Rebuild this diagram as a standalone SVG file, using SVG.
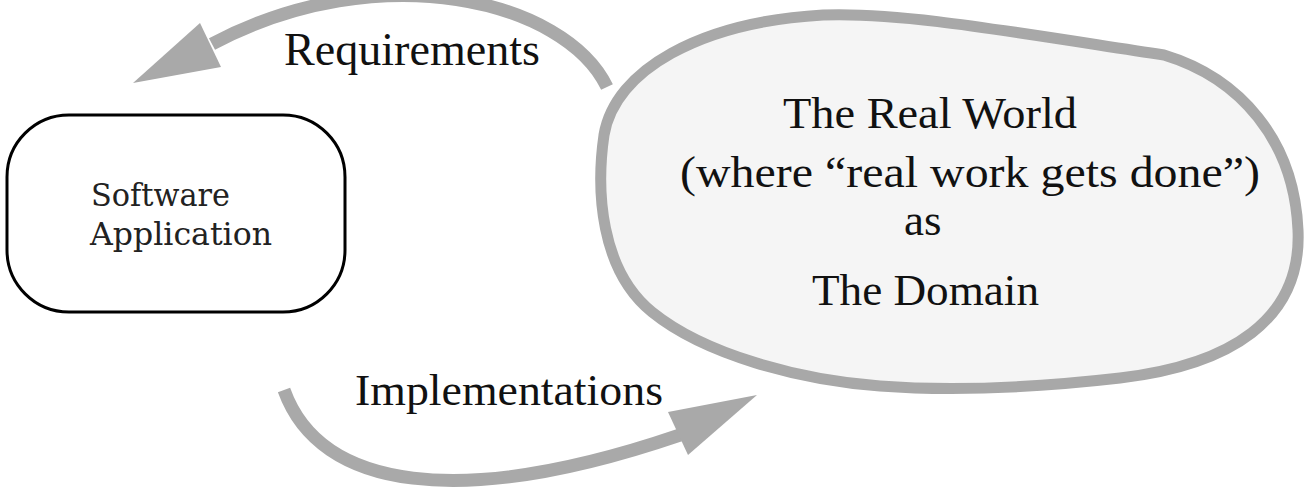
<svg xmlns="http://www.w3.org/2000/svg" width="1315" height="498" viewBox="0 0 1315 498">
  <style>
    .serif { font-family: "Liberation Serif", "Times New Roman", serif; fill: #111; }
    .big { font-size: 45px; }
    .arrow { fill: none; stroke: #a9a9a9; stroke-width: 13; stroke-linecap: butt; }
    .head { fill: #a9a9a9; stroke: none; }
  </style>
  <rect width="1315" height="498" fill="#ffffff"/>
  <g id="real-world">
    <path d="M 1164,55 C 1240,78 1294,140 1298,230 C 1302,320 1230,365 1120,378 C 1050,386 960,392 880,386 C 800,380 705,355 652,312 C 600,270 596,190 604,135 C 615,70 700,22 823,15 C 900,12 1000,30 1164,55 Z" fill="#f5f5f5" stroke="#a8a8a8" stroke-width="11" stroke-linejoin="round"/>
    <text class="serif big" x="783" y="128" textLength="294" lengthAdjust="spacingAndGlyphs">The Real World</text>
    <text class="serif big" x="680" y="187" textLength="580" lengthAdjust="spacingAndGlyphs">(where “real work gets done”)</text>
    <text class="serif big" x="904" y="235">as</text>
    <text class="serif big" x="812" y="305" textLength="227" lengthAdjust="spacingAndGlyphs">The Domain</text>
  </g>
  <g id="software-application">
    <rect x="7" y="115" width="338" height="197" rx="62" ry="62" fill="#ffffff" stroke="#000" stroke-width="3"/>
    <text x="91" y="206" font-family="DejaVu Serif, serif" font-size="31" fill="#222" textLength="139" lengthAdjust="spacingAndGlyphs">Software</text>
    <text x="90" y="245" font-family="DejaVu Serif, serif" font-size="31" fill="#222" textLength="182" lengthAdjust="spacingAndGlyphs">Application</text>
  </g>
  <g id="connectors">
    <g id="requirements">
      <path class="arrow" d="M 607,87 C 565,0 380,-45 212,44"/>
      <polygon class="head" points="133,83 200,23 221,67"/>
      <text class="serif" x="284" y="65" font-size="46" textLength="256" lengthAdjust="spacingAndGlyphs">Requirements</text>
    </g>
    <g id="implementations">
      <path class="arrow" d="M 284,390 C 320,490 460,510 680,435"/>
      <polygon class="head" points="757,395 668,412 688,455"/>
      <text class="serif big" x="355" y="405" textLength="308" lengthAdjust="spacingAndGlyphs">Implementations</text>
    </g>
  </g>
</svg>
